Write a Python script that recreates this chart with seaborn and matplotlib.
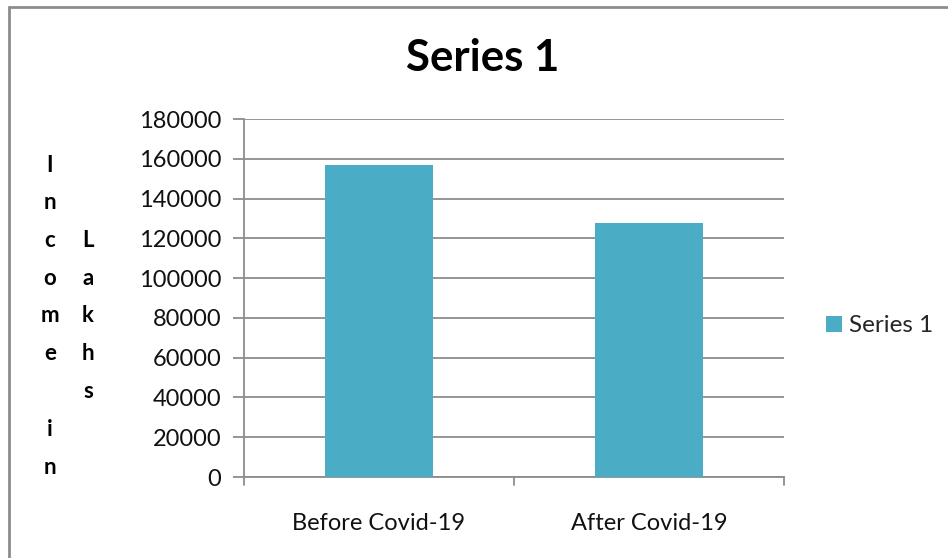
import matplotlib
matplotlib.use("Agg")
import matplotlib.pyplot as plt
import seaborn as sns
import pandas as pd
from matplotlib.lines import Line2D
from matplotlib.patches import Patch

categories = ["Before Covid-19", "After Covid-19"]
values = [157000, 127500]
series_name = "Series 1"
y_ticks = [0, 20000, 40000, 60000, 80000, 100000, 120000, 140000, 160000, 180000]
ylabel_col1 = ["I", "n", "c", "o", "m", "e", "", "i", "n"]
ylabel_col2 = ["", "", "L", "a", "k", "h", "s", "", ""]

sns.set_theme(style="white")
plt.rcParams['font.family'] = ['Lato', 'DejaVu Sans']

W, H = 948, 558
fig = plt.figure(figsize=(W / 100, H / 100), dpi=100)
ax = fig.add_axes([244 / W, 1 - 477 / H, 540 / W, 358 / H])

df = pd.DataFrame({"cat": categories, "val": values})
bar_color = "#4BACC6"
grid_color = "#8C8C8C"
sns.barplot(data=df, x="cat", y="val", color=bar_color, width=0.4,
            saturation=1, ax=ax, zorder=3)
for p in ax.patches:
    p.set_edgecolor("none")

ax.set_xlim(-0.5, 1.5)
ax.set_ylim(0, 180000)
ax.set_yticks(y_ticks)
ax.set_yticklabels([str(v) for v in y_ticks], fontsize=17, color="#111111")
ax.yaxis.grid(True, color=grid_color, linewidth=1.3, zorder=0)
ax.xaxis.grid(False)

# category labels centered under bars, ticks at boundaries
ax.set_xticks([0, 1])
ax.set_xticklabels(categories, fontsize=17, color="#111111")
ax.tick_params(axis="x", length=0, pad=26)
for xb in [-0.5, 0.5, 1.5]:
    ax.add_line(Line2D([xb, xb], [0, -0.022], transform=ax.get_xaxis_transform(),
                       color=grid_color, linewidth=1.3, clip_on=False))
ax.tick_params(axis="y", length=8, width=1.3, color=grid_color, left=True, pad=8.5)

for side in ["top", "right"]:
    ax.spines[side].set_visible(False)
for side in ["left", "bottom"]:
    ax.spines[side].set_color(grid_color)
    ax.spines[side].set_linewidth(1.3)
ax.set_xlabel("")
ax.set_ylabel("")

# Title
fig.text(483 / W, 1 - 58 / H, series_name, fontsize=31.5, fontweight="bold",
         ha="center", va="center", color="#000000")

# Stacked y-axis label
row_y0 = 165
row_step = 37.75
for i, ch in enumerate(ylabel_col1):
    if ch:
        fig.text(50 / W, 1 - (row_y0 + i * row_step) / H, ch, fontsize=16,
                 fontweight="bold", ha="center", va="center", color="#000000")
for i, ch in enumerate(ylabel_col2):
    if ch:
        fig.text(88 / W, 1 - (row_y0 + i * row_step) / H, ch, fontsize=16,
                 fontweight="bold", ha="center", va="center", color="#000000")

# Legend
handle = Patch(facecolor=bar_color, edgecolor="none", label=series_name)
fig.legend(handles=[handle], loc="center left", bbox_to_anchor=(826 / W, 1 - 326 / H),
           frameon=False, fontsize=17.5, handlelength=0.65, handleheight=0.65,
           handletextpad=0.3, borderaxespad=0, borderpad=0)

# Chart-area border (left and top visible)
fig.add_artist(Line2D([9 / W, 9 / W], [0, 1 - 6.5 / H], transform=fig.transFigure,
                      color="#8C8C8C", linewidth=2))
fig.add_artist(Line2D([9 / W, 1], [1 - 6.5 / H, 1 - 6.5 / H], transform=fig.transFigure,
                      color="#8C8C8C", linewidth=2))

fig.savefig("out.png", dpi=100)
